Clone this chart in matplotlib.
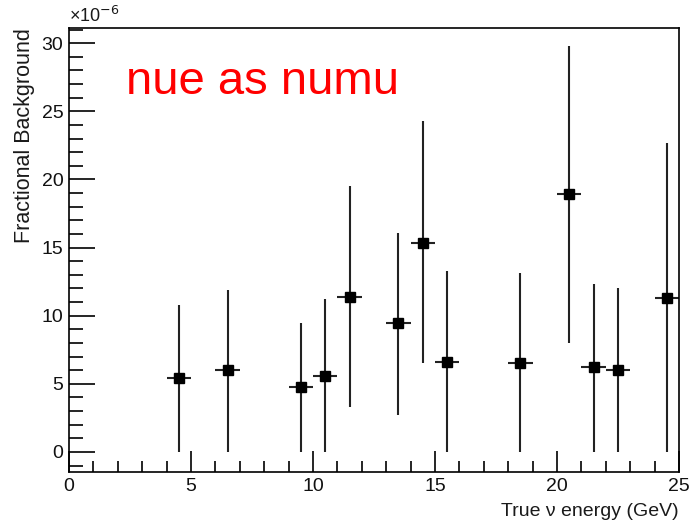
import numpy as np
import matplotlib.pyplot as plt
from matplotlib.ticker import MultipleLocator

plt.rcParams['font.family'] = ['Liberation Sans', 'DejaVu Sans']

# bin centres (GeV) and half bin width
energy = [4.5, 6.5, 9.5, 10.5, 11.5, 13.5, 14.5, 15.5, 18.5, 20.5, 21.5, 22.5, 24.5]
bin_half = [0.5] * len(energy)

# fractional background in units of 1e-6, with asymmetric errors
frac = [5.4, 6.0, 4.8, 5.6, 11.4, 9.5, 15.3, 6.6, 6.5, 18.9, 6.2, 6.0, 11.3]
err_lo = [5.4, 6.0, 4.8, 5.6, 8.1, 6.8, 8.8, 6.6, 6.5, 10.9, 6.2, 6.0, 11.3]
err_hi = [5.4, 5.9, 4.7, 5.6, 8.1, 6.6, 9.0, 6.7, 6.6, 10.9, 6.1, 6.0, 11.4]

fig = plt.figure(figsize=(6.89, 5.22), dpi=100)
ax = fig.add_axes([0.1001, 0.0958, 0.8854, 0.8502])

ax.errorbar(energy, frac, xerr=bin_half, yerr=[err_lo, err_hi], fmt='s',
            color='black', ecolor='#222222', elinewidth=1.5, markersize=6.5,
            capsize=0)

ax.set_xlim(0, 25)
ax.set_ylim(-1.47, 31.1)

ax.xaxis.set_major_locator(MultipleLocator(5))
ax.xaxis.set_minor_locator(MultipleLocator(1))
ax.yaxis.set_major_locator(MultipleLocator(5))
ax.yaxis.set_minor_locator(MultipleLocator(1))

ax.tick_params(which='both', direction='in', top=False, right=False,
               labelsize=14, width=1.2, pad=4, labelcolor='#111111')
ax.tick_params(axis='y', which='major', length=19)
ax.tick_params(axis='y', which='minor', length=10)
ax.tick_params(axis='x', which='major', length=15)
ax.tick_params(axis='x', which='minor', length=8)
for sp in ax.spines.values():
    sp.set_linewidth(1.2)

ax.text(0.0, 1.005, '\u00d710$^{-6}$', transform=ax.transAxes, fontsize=13,
        ha='left', va='bottom', color='#1a1a1a')

ax.set_ylabel('Fractional Background', fontsize=15.5, color='#1a1a1a',
              loc='top', labelpad=5)
ax.set_xlabel('True \u03bd energy (GeV)', fontsize=14, color='#1a1a1a',
              loc='right', labelpad=6)

ax.text(0.093, 0.878, 'nue as numu', transform=ax.transAxes, color='#ff0000',
        fontsize=34, va='center', ha='left')

fig.savefig('out.png', dpi=100)
